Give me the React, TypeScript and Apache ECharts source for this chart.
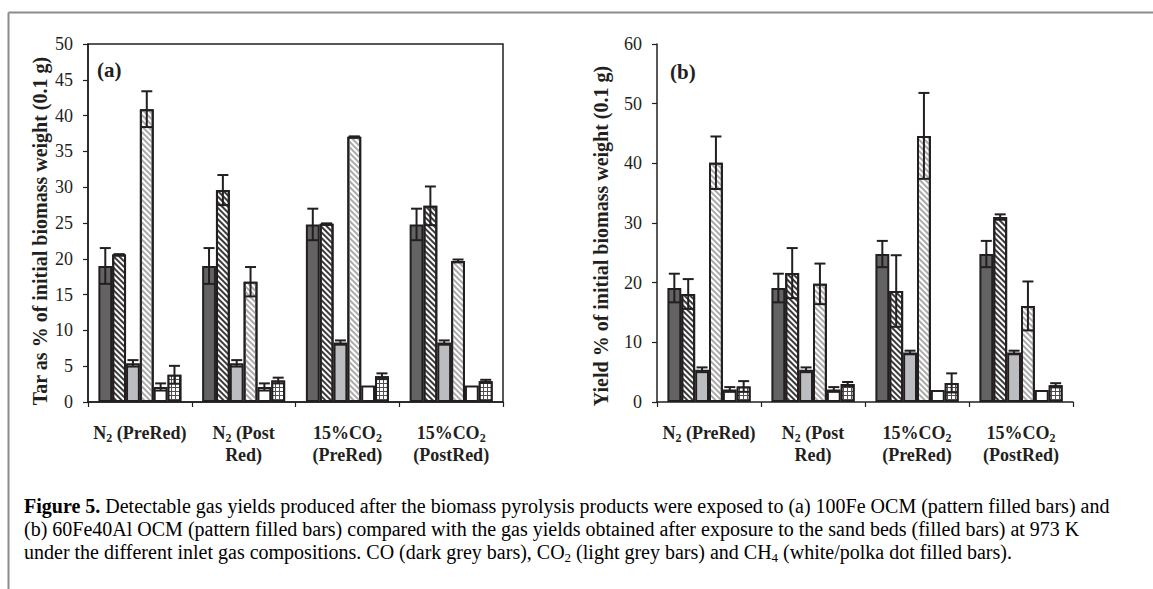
import React, { useEffect, useRef } from "react";
import * as echarts from "echarts";

const categories = ["N2 (PreRed)", "N2 (Post Red)", "15%CO2 (PreRed)", "15%CO2 (PostRed)"];
const catRich = [
  "{a|N}{s|2}{a| (PreRed)}",
  "{a|N}{s|2}{a| (Post}\n{a|Red)}",
  "{a|15%CO}{s|2}\n{a|(PreRed)}",
  "{a|15%CO}{s|2}\n{a|(PostRed)}",
];

// Panel (a)
const coSandA = [19.0, 19.0, 24.8, 24.8];
const coSandAErr = [2.5, 2.5, 2.2, 2.2];
const coOcmA = [20.6, 29.6, 24.9, 27.4];
const coOcmAErr = [0.05, 2.1, 0.05, 2.7];
const co2SandA = [5.4, 5.4, 8.3, 8.3];
const co2SandAErr = [0.45, 0.45, 0.3, 0.3];
const co2OcmA = [40.9, 16.8, 37.05, 19.7];
const co2OcmAErr = [2.5, 2.05, 0.05, 0.2];
const ch4SandA = [2.1, 2.1, 2.3, 2.3];
const ch4SandAErr = [0.5, 0.5, 0, 0];
const ch4OcmA = [3.8, 3.0, 3.6, 2.9];
const ch4OcmAErr = [1.25, 0.4, 0.4, 0.2];

// Panel (b)
const coSandB = [19.1, 19.1, 24.8, 24.8];
const coSandBErr = [2.4, 2.4, 2.2, 2.2];
const coOcmB = [18.1, 21.6, 18.6, 31.0];
const coOcmBErr = [2.5, 4.2, 6.0, 0.45];
const co2SandB = [5.4, 5.4, 8.3, 8.3];
const co2SandBErr = [0.4, 0.4, 0.3, 0.3];
const co2OcmB = [40.1, 19.8, 44.6, 16.1];
const co2OcmBErr = [4.4, 3.4, 7.2, 4.1];
const ch4SandB = [2.1, 2.1, 2.0, 2.0];
const ch4SandBErr = [0.4, 0.4, 0, 0];
const ch4OcmB = [2.6, 3.0, 3.2, 2.8];
const ch4OcmBErr = [0.9, 0.35, 1.6, 0.35];

const yTicksA = { min: 0, max: 50, interval: 5 };
const yTicksB = { min: 0, max: 60, interval: 10 };
const yTitleA = "Tar as % of initial biomass weight (0.1 g)";
const yTitleB = "Yield % of initial biomass weight (0.1 g)";

const INK = "#231f20";
const SERIF = "'Liberation Serif', 'Times New Roman', serif";

const seriesStyles = [
  { color: "#636363" },
  { color: "#ffffff", decal: { symbol: "rect", symbolSize: 1, color: "#3a3a3a", dashArrayX: [1, 0], dashArrayY: [2, 2], rotation: Math.PI / 4 } },
  { color: "#bcbdc0" },
  { color: "#ffffff", decal: { symbol: "rect", symbolSize: 1, color: "#ababab", dashArrayX: [1, 0], dashArrayY: [2, 2], rotation: Math.PI / 4 } },
  { color: "#ffffff" },
  { color: "#505050", decal: { symbol: "rect", symbolSize: 1, color: "#ffffff", dashArrayX: [2.2, 1], dashArrayY: [2.2, 1], rotation: 0 } },
];

const CAT_GAP = 0.2;
const NBARS = 6;

function buildPanel(gridIndex: number, vals: number[][], errs: number[][]) {
  const out: any[] = [];
  vals.forEach((v, k) => {
    const st: any = seriesStyles[k];
    out.push({
      type: "bar",
      xAxisIndex: gridIndex,
      yAxisIndex: gridIndex,
      data: v,
      barGap: "0%",
      barCategoryGap: CAT_GAP * 100 + "%",
      itemStyle: { color: st.color, borderColor: INK, borderWidth: 2, decal: st.decal },
      z: 2,
    });
  });
  vals.forEach((v, k) => {
    out.push({
      type: "custom",
      xAxisIndex: gridIndex,
      yAxisIndex: gridIndex,
      z: 10,
      data: v.map((val, i) => [i, val - errs[k][i], val + errs[k][i], errs[k][i]]),
      renderItem: (params: any, api: any) => {
        if (api.value(3) <= 0) return null;
        const ci = api.value(0);
        const lo = api.coord([ci, api.value(1)]);
        const hi = api.coord([ci, api.value(2)]);
        const w = api.size([1, 0])[0];
        const bw = (w * (1 - CAT_GAP)) / NBARS;
        const x = lo[0] + (k - (NBARS - 1) / 2) * bw;
        const cap = 5.5;
        const style = { stroke: INK, lineWidth: 2 };
        return {
          type: "group",
          children: [
            { type: "line", shape: { x1: x, y1: lo[1], x2: x, y2: hi[1] }, style },
            { type: "line", shape: { x1: x - cap, y1: lo[1], x2: x + cap, y2: lo[1] }, style },
            { type: "line", shape: { x1: x - cap, y1: hi[1], x2: x + cap, y2: hi[1] }, style },
          ],
        };
      },
    });
  });
  return out;
}

function xAxisFor(gridIndex: number) {
  return {
    type: "category",
    gridIndex,
    data: categories,
    axisLine: { show: true, lineStyle: { color: INK, width: 1.5 } },
    axisTick: { show: true, alignWithLabel: false, inside: false, length: 5, lineStyle: { color: INK, width: 1.2 } },
    splitLine: { show: false },
    axisLabel: {
      interval: 0,
      margin: 20,
      formatter: (_v: string, i: number) => catRich[i],
      rich: {
        a: { fontFamily: SERIF, fontWeight: "bold", fontSize: 18, color: INK, lineHeight: 22 },
        s: { fontFamily: SERIF, fontWeight: "bold", fontSize: 12, color: INK, lineHeight: 12, verticalAlign: "bottom" },
      },
    },
  };
}

function yAxisFor(gridIndex: number, t: any) {
  return {
    type: "value",
    gridIndex,
    min: t.min,
    max: t.max,
    interval: t.interval,
    axisLine: { show: true, lineStyle: { color: INK, width: 1.5 } },
    axisTick: { show: true, inside: false, length: 5, lineStyle: { color: INK, width: 1.2 } },
    splitLine: { show: false },
    axisLabel: { margin: 15, fontFamily: SERIF, fontSize: 18, color: INK },
  };
}

export default function App() {
  const ref = useRef<HTMLDivElement>(null);
  useEffect(() => {
    if (!ref.current) return;
    const chart = echarts.init(ref.current, null, { renderer: "svg" });
    const valsA = [coSandA, coOcmA, co2SandA, co2OcmA, ch4SandA, ch4OcmA];
    const errsA = [coSandAErr, coOcmAErr, co2SandAErr, co2OcmAErr, ch4SandAErr, ch4OcmAErr];
    const valsB = [coSandB, coOcmB, co2SandB, co2OcmB, ch4SandB, ch4OcmB];
    const errsB = [coSandBErr, coOcmBErr, co2SandBErr, co2OcmBErr, ch4SandBErr, ch4OcmBErr];
    const CF = 20;
    const capRich = {
      r: { fontFamily: SERIF, fontSize: CF, color: INK, lineHeight: 23 },
      b: { fontFamily: SERIF, fontWeight: "bold", fontSize: CF, color: INK, lineHeight: 23 },
      s: { fontFamily: SERIF, fontSize: 13, color: INK, lineHeight: 12, verticalAlign: "bottom" },
    };
    const titleStyle = { fontFamily: SERIF, fontWeight: "bold", fontSize: 20, fill: INK, align: "center", verticalAlign: "middle" };
    chart.setOption({
      animation: false,
      backgroundColor: "#ffffff",
      grid: [
        { left: 88, top: 44, width: 415, height: 358, show: true, borderColor: INK, borderWidth: 1.5, backgroundColor: "transparent", outerBoundsMode: "none" },
        { left: 657, top: 44, width: 416, height: 358, show: false, outerBoundsMode: "none" },
      ],
      xAxis: [xAxisFor(0), xAxisFor(1)],
      yAxis: [yAxisFor(0, yTicksA), yAxisFor(1, yTicksB)],
      series: [...buildPanel(0, valsA, errsA), ...buildPanel(1, valsB, errsB)],
      graphic: [
        { type: "line", shape: { x1: 8.5, y1: 12.5, x2: 1153, y2: 12.5 }, style: { stroke: "#8c8c8c", lineWidth: 2 } },
        { type: "line", shape: { x1: 8.5, y1: 12.5, x2: 8.5, y2: 589 }, style: { stroke: "#8c8c8c", lineWidth: 2 } },
        { type: "text", x: 40, y: 231, rotation: Math.PI / 2, style: { ...titleStyle, text: yTitleA } },
        { type: "text", x: 601, y: 236, rotation: Math.PI / 2, style: { ...titleStyle, text: yTitleB } },
        { type: "text", x: 97, y: 70, style: { text: "(a)", fontFamily: SERIF, fontWeight: "bold", fontSize: 21, fill: INK, verticalAlign: "middle" } },
        { type: "text", x: 670, y: 72, style: { text: "(b)", fontFamily: SERIF, fontWeight: "bold", fontSize: 21, fill: INK, verticalAlign: "middle" } },
        {
          type: "text", x: 24, y: 506,
          style: { text: "{b|Figure 5.}{r| Detectable gas yields produced after the biomass pyrolysis products were exposed to (a) 100Fe OCM (pattern filled bars) and}", rich: capRich, verticalAlign: "middle" },
        },
        {
          type: "text", x: 24, y: 529,
          style: { text: "{r|(b) 60Fe40Al OCM (pattern filled bars) compared with the gas yields obtained after exposure to the sand beds (filled bars) at 973 K}", rich: capRich, verticalAlign: "middle" },
        },
        {
          type: "text", x: 24, y: 552,
          style: { text: "{r|under the different inlet gas compositions. CO (dark grey bars), CO}{s|2}{r| (light grey bars) and CH}{s|4}{r| (white/polka dot filled bars).}", rich: capRich, verticalAlign: "middle" },
        },
      ],
    });
    return () => chart.dispose();
  }, []);
  return <div ref={ref} style={{ position: "fixed", left: 0, top: 0, width: 1153, height: 589, background: "#fff" }} />;
}
